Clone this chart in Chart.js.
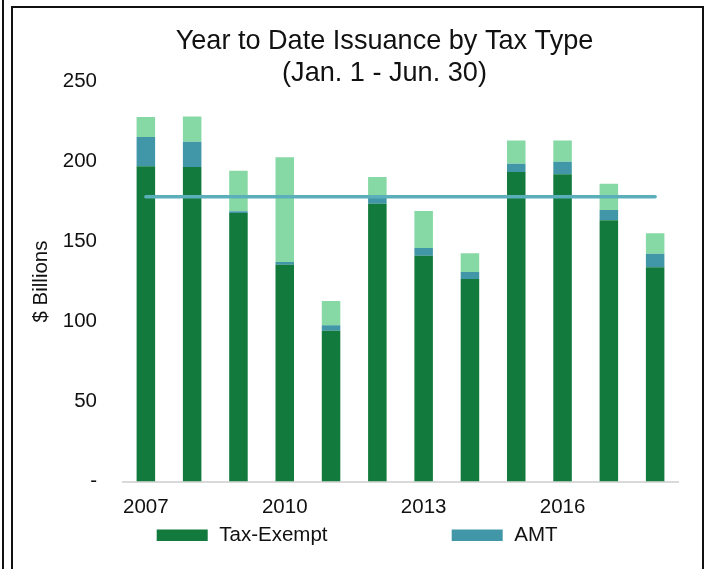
<!DOCTYPE html>
<html>
<head>
<meta charset="utf-8">
<script src="https://cdn.jsdelivr.net/npm/chart.js@4/dist/chart.umd.min.js"></script>
<style>
  html, body { margin: 0; padding: 0; background: #fff; }
  #wrap { position: relative; width: 709px; height: 569px; overflow: hidden; }
  #c { position: absolute; left: 0; top: 0; }
  .rule { position: absolute; pointer-events: none; box-sizing: border-box; }
  #outer { left: 2px; top: 0; width: 2px; height: 569px; background: #111; }
  #panel { left: 11px; top: 6px; width: 693px; height: 620px;
           border: 2px solid #111; border-bottom: none; }
</style>
</head>
<body>
<div id="wrap">
  <canvas id="c" width="709" height="569"></canvas>
  <div id="outer" class="rule"></div>
  <div id="panel" class="rule"></div>
</div>
<script>
// Issuance, $ billions, January 1 through June 30 of each year
const years = ['2007', '2008', '2009', '2010', '2011', '2012', '2013', '2014', '2015', '2016', '2017', '2018'];
const shownYears = ['2007', '2010', '2013', '2016'];
const taxExempt = [197.0, 196.6, 167.8, 135.5, 94.3, 173.6, 141.1, 126.6, 193.4, 192.0, 163.3, 133.9];
const amt = [18.3, 15.8, 1.1, 1.7, 3.3, 4.0, 4.8, 4.3, 5.2, 7.9, 6.4, 8.5];
const taxable = [12.5, 15.8, 25.4, 65.4, 15.2, 12.7, 23.2, 11.7, 14.6, 13.3, 16.4, 12.7];
const average = [178, 178, 178, 178, 178, 178, 178, 178, 178, 178, 178, 178];
const yTickLabels = ['-', '50', '100', '150', '200', '250'];

const FONT = "'Liberation Sans', Arial, sans-serif";

// Paint a white page behind everything
const whiteBg = {
  id: 'whiteBg',
  beforeDraw(chart) {
    const ctx = chart.ctx;
    ctx.save();
    ctx.fillStyle = '#fff';
    ctx.fillRect(0, 0, chart.width, chart.height);
    ctx.restore();
  }
};

// Wide-spaced legend row under the axis
const spacedLegend = {
  id: 'spacedLegend',
  afterDraw(chart) {
    const ctx = chart.ctx;
    const starts = [156.7, 451.7];
    ctx.save();
    ctx.font = '20.5px ' + FONT;
    ctx.textBaseline = 'middle';
    ctx.textAlign = 'left';
    starts.forEach((x, i) => {
      const ds = chart.data.datasets[i];
      ctx.fillStyle = ds.backgroundColor;
      ctx.fillRect(x, 529.5, 51, 11.5);
      ctx.fillStyle = '#111';
      ctx.fillText(ds.label, x + 62.6, 535.5);
    });
    ctx.restore();
  }
};

new Chart(document.getElementById('c'), {
  type: 'bar',
  data: {
    labels: years,
    datasets: [
      { label: 'Tax-Exempt', data: taxExempt, backgroundColor: '#127A3D', stack: 'issuance', order: 1 },
      { label: 'AMT', data: amt, backgroundColor: '#4197A7', stack: 'issuance', order: 1 },
      { label: 'Taxable', data: taxable, backgroundColor: '#86D9A5', stack: 'issuance', order: 1 },
      { type: 'line', label: 'Average', data: average, stack: 'avg', order: 0,
        borderColor: '#5AAFBB', borderWidth: 3.5, borderCapStyle: 'round',
        pointRadius: 0, fill: false, tension: 0 }
    ]
  },
  options: {
    responsive: false,
    animation: false,
    devicePixelRatio: 1,
    layout: { padding: { left: 60, right: 0, top: 0, bottom: 47.5 } },
    datasets: { bar: { barPercentage: 0.5, categoryPercentage: 0.8, borderWidth: 0 } },
    plugins: {
      legend: { display: false },
      tooltip: { enabled: false },
      title: {
        display: true,
        text: ['Year to Date Issuance by Tax Type', '(Jan. 1 - Jun. 30)'],
        color: '#111',
        font: { family: FONT, size: 27.1, weight: 'normal', lineHeight: 1.2 },
        padding: { top: 25, bottom: -8.5 }
      }
    },
    scales: {
      x: {
        stacked: true,
        grid: { display: false, drawTicks: false },
        border: { display: true, color: '#d9d9d9', width: 2 },
        afterFit(s) { s.height = 40; },
        ticks: {
          autoSkip: false,
          maxRotation: 0,
          padding: 13.5,
          color: '#111',
          font: { family: FONT, size: 20.5 },
          callback(value, index) {
            const y = years[index];
            return shownYears.includes(y) ? y : '';
          }
        }
      },
      y: {
        stacked: true,
        min: 0,
        max: 250,
        grid: { display: false, drawTicks: false },
        border: { display: false },
        afterFit(s) { s.width = 62.7; },
        ticks: {
          stepSize: 50,
          padding: 25.7,
          color: '#111',
          font: { family: FONT, size: 20.5 },
          callback(value, index) { return yTickLabels[index]; }
        },
        title: {
          display: true,
          text: '$ Billions',
          color: '#111',
          font: { family: FONT, size: 20.5 },
          padding: { top: -30.8, bottom: 0 }
        }
      },
      // empty right-hand margin band so the plot ends short of the frame
      margin: {
        position: 'right',
        display: true,
        grid: { display: false, drawTicks: false },
        border: { display: false },
        ticks: { display: false },
        afterFit(s) { s.width = 30.7; }
      }
    }
  },
  plugins: [whiteBg, spacedLegend]
});
</script>
</body>
</html>
